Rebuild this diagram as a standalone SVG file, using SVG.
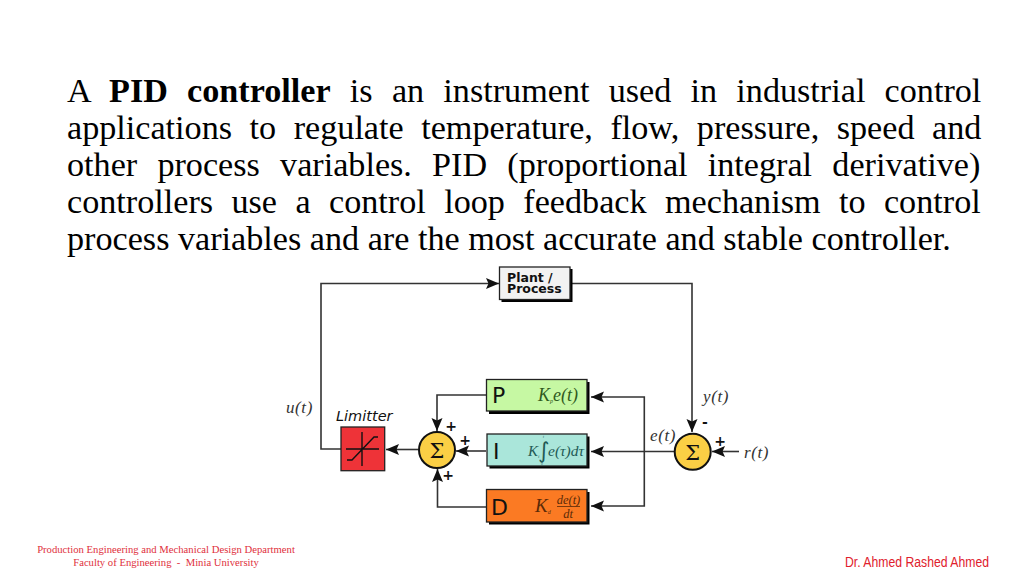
<svg xmlns="http://www.w3.org/2000/svg" width="1024" height="576" viewBox="0 0 1024 576">
<style>
.body{font-family:"Liberation Serif","Times New Roman",serif;font-size:34.16px;fill:#000}
.b{font-weight:bold}
.box{stroke:#222;stroke-width:1.3}
.sh{fill:#000}
.wire{fill:none;stroke:#333;stroke-width:1.6}
.math{font-family:"Liberation Serif",serif;font-style:italic;fill:#333;font-size:17px;letter-spacing:.6px}
.m{font-family:"Liberation Serif",serif;font-style:italic}
.gl{font-family:"DejaVu Sans",sans-serif;font-size:22px;fill:#111}
.sg{font-family:"DejaVu Sans",sans-serif;font-weight:bold;font-size:14px;fill:#111;text-anchor:middle}
.sum{fill:#fbcf45;stroke:#111;stroke-width:2}
.sig{font-family:"DejaVu Serif",serif;font-size:21px;fill:#111;text-anchor:middle}
.foot{font-family:"Liberation Serif",serif;font-size:10.67px;fill:#e0303c;text-anchor:middle}
</style>
<defs>
<marker id="arr" markerUnits="userSpaceOnUse" markerWidth="14" markerHeight="13" refX="13" refY="6.500" orient="auto">
<path d="M0 1L13 6.500L0 12L2.500 6.500Z" fill="#111"/>
</marker>
</defs>
<g id="paragraph">
<text class="body" x="67" y="102" style="word-spacing:10.7px">A <tspan class="b">PID controller</tspan> is an instrument used in industrial control</text>
<text class="body" x="67" y="139" style="word-spacing:9px">applications to regulate temperature, flow, pressure, speed and</text>
<text class="body" x="67" y="176" style="word-spacing:11.68px">other process variables. PID (proportional integral derivative)</text>
<text class="body" x="67" y="213" style="word-spacing:9.88px">controllers use a control loop feedback mechanism to control</text>
<text class="body" x="67" y="250">process variables and are the most accurate and stable controller.</text>
</g>
<g id="connectors">
<path class="wire" d="M341 449H321V283.500H499" marker-end="url(#arr)"/>
<path class="wire" d="M570 283.500H692V432" marker-end="url(#arr)"/>
<path class="wire" d="M486 395H437V431" marker-end="url(#arr)"/>
<path class="wire" d="M486 451H456" marker-end="url(#arr)"/>
<path class="wire" d="M486 507H437.500V469" marker-end="url(#arr)"/>
<path class="wire" d="M418 449.500H386" marker-end="url(#arr)"/>
<path class="wire" d="M674 451.500H591" marker-end="url(#arr)"/>
<path class="wire" d="M644.300 451.500V397H591" marker-end="url(#arr)"/>
<path class="wire" d="M644.300 451.500V506H591" marker-end="url(#arr)"/>
<path class="wire" d="M739 451.500H712" marker-end="url(#arr)"/>
</g>
<g id="plant">
<rect class="sh" x="501.500" y="269" width="71" height="33"/>
<rect class="box" x="499.500" y="267" width="70.500" height="32.500" fill="#f2f2f2"/>
<text font-family="DejaVu Sans, sans-serif" font-weight="bold" font-size="12.500" fill="#111"><tspan x="507" y="282">Plant /</tspan><tspan x="507" y="293">Process</tspan></text>
</g>
<g id="limiter">
<text x="336" y="421" font-family="DejaVu Sans, sans-serif" font-style="italic" font-size="14.500" fill="#111">Limitter</text>
<rect x="341" y="427" width="43.700" height="43.700" fill="#ee3338" stroke="#222" stroke-width="1.300"/>
<path d="M346 449H379M362 432V466M347 460H352L374 437H378" fill="none" stroke="#111" stroke-width="1.400"/>
</g>
<g id="sum1">
<circle class="sum" cx="437" cy="450" r="18"/>
<text class="sig" x="437" y="458">Σ</text>
<text class="sg" x="451" y="431">+</text>
<text class="sg" x="465" y="445">+</text>
<text class="sg" x="448" y="480">+</text>
</g>
<g id="sum2">
<circle class="sum" cx="692.700" cy="451.700" r="18"/>
<text class="sig" x="692.700" y="459.500">Σ</text>
<text class="sg" x="720" y="446">+</text>
<text class="sg" x="705" y="427">-</text>
</g>
<g id="p-block">
<rect class="sh" x="489" y="382" width="100.500" height="32"/>
<rect class="box" x="486.500" y="379.500" width="100.500" height="31.500" fill="#c6f8a3"/>
<text class="gl" x="492" y="403">P</text>
<text class="m" fill="#2f5a20" font-size="18" x="538" y="401">K<tspan font-size="6" dy="2">p</tspan><tspan dy="-2">e(t)</tspan></text>
</g>
<g id="i-block">
<rect class="sh" x="489.500" y="436.500" width="100" height="32"/>
<rect class="box" x="487" y="434" width="100" height="32" fill="#aae6da"/>
<text class="gl" x="493" y="459">I</text>
<text class="m" fill="#1f5a55" font-size="15" x="528" y="456">K<tspan font-size="5" dy="2">i</tspan></text>
<text fill="#1f5a55" font-family="DejaVu Sans, sans-serif" font-size="22" x="538" y="458">∫</text>
<text class="m" fill="#1f5a55" font-size="3.500" x="543" y="438">t</text>
<text class="m" fill="#1f5a55" font-size="3.500" x="541" y="465">0</text>
<text class="m" fill="#1f5a55" font-size="15.500" x="548" y="456">e(τ)dτ</text>
</g>
<g id="d-block">
<rect class="sh" x="489" y="492" width="100.500" height="32.500"/>
<rect class="box" x="486.500" y="489.500" width="100.500" height="32.500" fill="#fb7a23"/>
<text class="gl" x="491" y="515">D</text>
<text class="m" fill="#5a2a08" font-size="19" x="535" y="512">K<tspan font-size="6" dy="2">d</tspan></text>
<text class="m" fill="#5a2a08" font-size="12.500" x="568.500" y="504" text-anchor="middle">de(t)</text>
<path d="M557 506.500H580" stroke="#5a2a08" stroke-width="0.800"/>
<text class="m" fill="#5a2a08" font-size="12.500" x="568" y="517.500" text-anchor="middle">dt</text>
</g>
<g id="labels">
<text class="math" x="286" y="413">u(t)</text>
<text class="math" x="703" y="402">y(t)</text>
<text class="math" x="650" y="441">e(t)</text>
<text class="math" x="744" y="458">r(t)</text>
</g>
<g id="footer">
<text class="foot" x="166" y="552.500">Production Engineering and Mechanical Design Department</text>
<text class="foot" x="166" y="565.500">Faculty of Engineering &#160;-&#160; Minia University</text>
<text x="845" y="566.500" font-family="Liberation Sans, sans-serif" font-size="14" fill="#e0202c" textLength="144" lengthAdjust="spacingAndGlyphs">Dr. Ahmed Rashed Ahmed</text>
</g>
</svg>
